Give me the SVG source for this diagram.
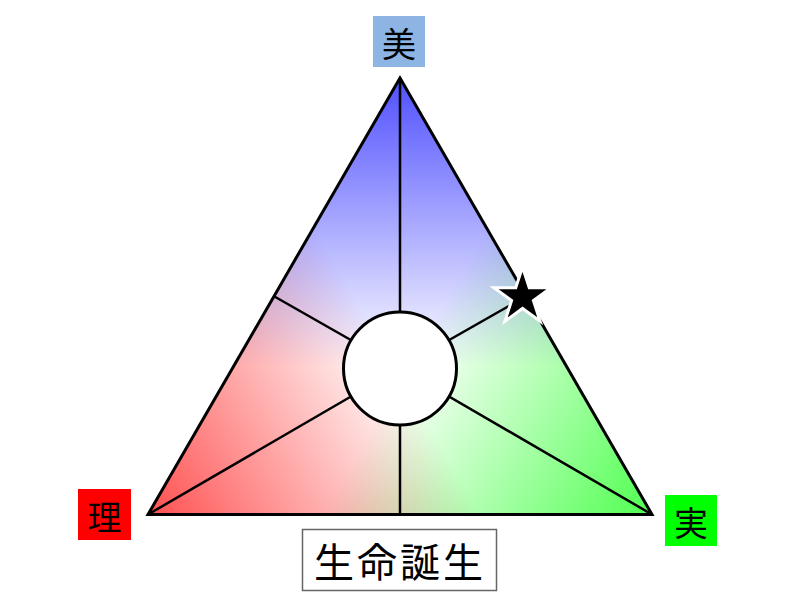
<svg xmlns="http://www.w3.org/2000/svg" width="800" height="600" viewBox="0 0 800 600">
  <defs>
    <linearGradient id="gBlue" gradientUnits="userSpaceOnUse" x1="400" y1="78" x2="400" y2="514.5">
      <stop offset="0" stop-color="#5050FF"/>
      <stop offset="0.66" stop-color="#FFFFFF"/>
    </linearGradient>
    <linearGradient id="gRed" gradientUnits="userSpaceOnUse" x1="148" y1="514.5" x2="526" y2="296.25">
      <stop offset="0" stop-color="#FF5050"/>
      <stop offset="0.66" stop-color="#FFFFFF"/>
    </linearGradient>
    <linearGradient id="gGreen" gradientUnits="userSpaceOnUse" x1="652" y1="514.5" x2="274" y2="296.25">
      <stop offset="0" stop-color="#50FF50"/>
      <stop offset="0.66" stop-color="#FFFFFF"/>
    </linearGradient>
  </defs>
  <style>
    .lbl { font-family: "Noto Sans CJK JP", "Noto Sans CJK SC", sans-serif; fill: #000; text-anchor: middle; dominant-baseline: central; }
    .spoke { stroke: #000; stroke-width: 2.5; fill: none; }
    .layer { mix-blend-mode: multiply; }
  </style>
  <rect width="800" height="600" fill="#FFFFFF"/>

  <g id="triangle">
    <g style="isolation:isolate">
      <polygon points="400,78 148,514.5 652,514.5" fill="#FFFFFF"/>
      <polygon class="layer" points="400,78 148,514.5 652,514.5" fill="url(#gBlue)"/>
      <polygon class="layer" points="400,78 148,514.5 652,514.5" fill="url(#gRed)"/>
      <polygon class="layer" points="400,78 148,514.5 652,514.5" fill="url(#gGreen)"/>
    </g>
  </g>

  <g id="connectors">
    <line class="spoke" x1="400" y1="368" x2="400" y2="78"/>
    <line class="spoke" x1="400" y1="368" x2="400" y2="514.5"/>
    <line class="spoke" x1="400" y1="368" x2="148" y2="514.5"/>
    <line class="spoke" x1="400" y1="368" x2="652" y2="514.5"/>
    <line class="spoke" x1="400" y1="368" x2="274" y2="296.25"/>
    <line class="spoke" x1="400" y1="368" x2="526" y2="296.25"/>
  </g>

  <g id="triangle-outline">
    <polygon points="400,78 148,514.5 652,514.5" fill="none" stroke="#000" stroke-width="3" stroke-linejoin="miter"/>
  </g>

  <g id="center">
    <circle cx="400" cy="368.5" r="56.5" fill="#FFFFFF" stroke="#000" stroke-width="3"/>
  </g>

  <g id="star">
    <polygon points="522.5,267 529.24,287.73 551.03,287.73 533.4,300.54 540.13,321.27 522.5,308.46 504.87,321.27 511.6,300.54 493.97,287.73 515.76,287.73" fill="#000" stroke="#FFFFFF" stroke-width="3" stroke-linejoin="miter"/>
  </g>

  <g id="node-bi">
    <rect x="373" y="16" width="52" height="51" fill="#8DB4E2"/>
    <text class="lbl" x="399" y="42" font-size="34">美</text>
  </g>

  <g id="node-ri">
    <rect x="78" y="489" width="53" height="51" fill="#FF0000"/>
    <text class="lbl" x="104.5" y="515" font-size="34">理</text>
  </g>

  <g id="node-jitsu">
    <rect x="665" y="495" width="52" height="51" fill="#00FF00"/>
    <text class="lbl" x="691" y="521" font-size="34">実</text>
  </g>

  <g id="node-birth">
    <rect x="302.5" y="529.5" width="194" height="61" fill="#FFFFFF" stroke="#666666" stroke-width="1.5"/>
    <text class="lbl" x="400" y="560" font-size="40" letter-spacing="3">生命誕生</text>
  </g>
</svg>
